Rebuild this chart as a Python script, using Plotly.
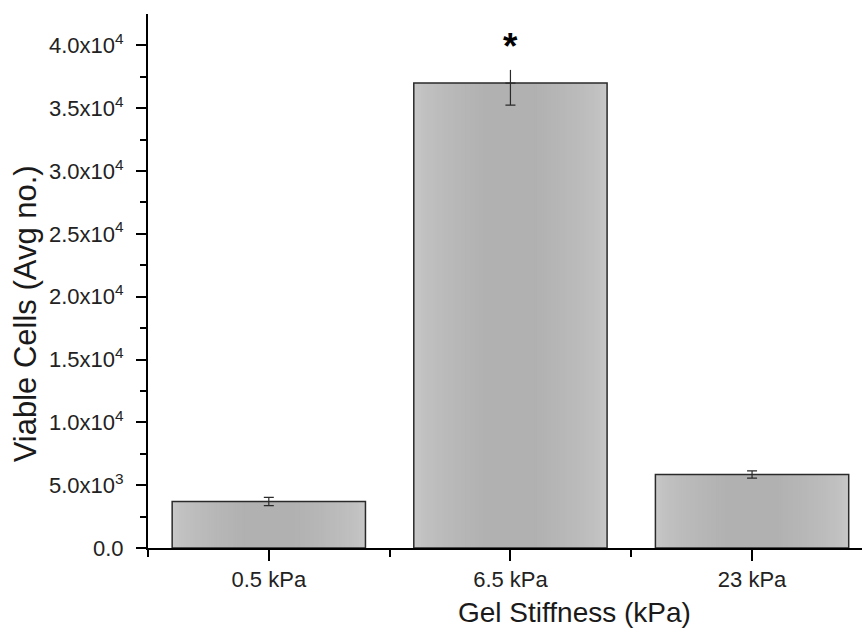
import plotly.graph_objects as go

# Viable cell counts per gel stiffness
categories = ["0.5 kPa", "6.5 kPa", "23 kPa"]
positions = [1, 2, 3]
viable_cells = [3700, 37000, 5850]
err_plus = [330, 1050, 290]
err_minus = [330, 1750, 290]
significance = ["", "*", ""]

y_tickvals = [0, 5000, 10000, 15000, 20000, 25000, 30000, 35000, 40000]
y_ticktext = ["0.0", "5.0x10<sup>3</sup>", "1.0x10<sup>4</sup>", "1.5x10<sup>4</sup>",
              "2.0x10<sup>4</sup>", "2.5x10<sup>4</sup>", "3.0x10<sup>4</sup>",
              "3.5x10<sup>4</sup>", "4.0x10<sup>4</sup>"]
y_minor = [2500, 7500, 12500, 17500, 22500, 27500, 32500, 37500]
x_minor = [0.5, 1.5, 2.5]

FONT = "Liberation Sans, Arial, sans-serif"
BAR_WIDTH = 0.8

fig = go.Figure()

# shaded bar fill: lighter at the sides, darker toward the middle
n_layers = 32
light, dark = 200, 177
for i in range(n_layers):
    frac = i / (n_layers - 1)
    g = round(light - (light - dark) * frac ** 0.6)
    w = BAR_WIDTH * (1 - 0.75 * frac)
    fig.add_trace(go.Bar(
        x=positions, y=viable_cells, width=w,
        marker=dict(color=f"rgb({g},{g},{g})", line=dict(width=0)),
        showlegend=False, hoverinfo="skip",
    ))

# bar outlines
fig.add_trace(go.Bar(
    x=positions, y=viable_cells, width=BAR_WIDTH,
    marker=dict(color="rgba(0,0,0,0)", line=dict(color="#2a2a2a", width=1.5)),
    showlegend=False, hoverinfo="skip",
))

# lower error bars (with caps), upper caps only where drawn
fig.add_trace(go.Scatter(
    x=positions, y=viable_cells, mode="markers",
    marker=dict(size=0.1, color="rgba(0,0,0,0)"),
    error_y=dict(type="data", symmetric=False,
                 array=[err_plus[0], 0, err_plus[2]],
                 arrayminus=err_minus,
                 color="#2a2a2a", thickness=1.2, width=5),
    showlegend=False, hoverinfo="skip",
))
fig.add_trace(go.Scatter(
    x=[positions[1]], y=[viable_cells[1]], mode="markers",
    marker=dict(size=0.1, color="rgba(0,0,0,0)"),
    error_y=dict(type="data", symmetric=False,
                 array=[err_plus[1]], arrayminus=[0],
                 color="#2a2a2a", thickness=1.2, width=0),
    showlegend=False, hoverinfo="skip",
))

for xp, v, ep, mark in zip(positions, viable_cells, err_plus, significance):
    if mark:
        fig.add_annotation(x=xp, y=v + ep, yshift=1, text=f"<b>{mark}</b>", showarrow=False,
                           yanchor="bottom", font=dict(family=FONT, size=37, color="black"))

fig.add_annotation(x=0.598, xref="paper", y=-0.12, yref="paper",
                   text="Gel Stiffness (kPa)", showarrow=False,
                   font=dict(family=FONT, size=28, color="#1a1a1a"),
                   xanchor="center", yanchor="middle")
fig.add_annotation(x=-0.172, xref="paper", y=0.438, yref="paper",
                   text="Viable Cells (Avg no.)", showarrow=False, textangle=-90,
                   font=dict(family=FONT, size=31, color="#1a1a1a"),
                   xanchor="center", yanchor="middle")

fig.update_layout(
    width=862, height=633,
    margin=dict(l=148, r=0, t=14, b=85),
    paper_bgcolor="white", plot_bgcolor="white",
    barmode="overlay",
    font=dict(family=FONT, color="#222222"),
    xaxis=dict(
        range=[0.5, 3.455], tickmode="array", tickvals=positions, ticktext=categories,
        showline=True, linecolor="black", linewidth=2, showgrid=False, zeroline=False,
        ticks="outside", ticklen=11, tickwidth=2, tickcolor="black",
        tickfont=dict(family=FONT, size=22, color="#222222"),
        minor=dict(tickmode="array", tickvals=x_minor, ticks="outside",
                   ticklen=7, tickwidth=2, tickcolor="black"),
    ),
    yaxis=dict(
        range=[0, 42500], tickmode="array", tickvals=y_tickvals, ticktext=y_ticktext,
        showline=True, linecolor="black", linewidth=2, showgrid=False, zeroline=False,
        ticks="outside", ticklen=10, tickwidth=2, tickcolor="black",
        ticklabelstandoff=8,
        tickfont=dict(family=FONT, size=22, color="#222222"),
        minor=dict(tickmode="array", tickvals=y_minor, ticks="outside",
                   ticklen=6, tickwidth=2, tickcolor="black"),
    ),
)

fig.write_html("out.html")
